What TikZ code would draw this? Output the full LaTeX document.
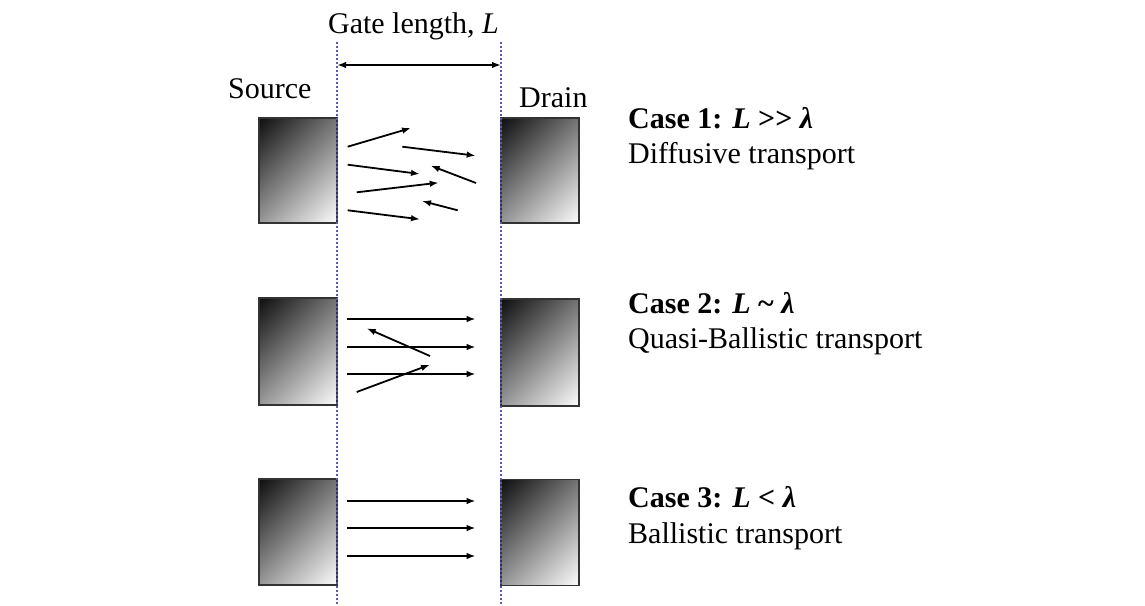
\documentclass[tikz,border=0pt]{standalone}
\usepackage{fontspec}
\setmainfont{Liberation Serif}
\usetikzlibrary{arrows.meta}
\definecolor{dotblue}{RGB}{90,90,190}
\pgfdeclareverticalshading{boxshade}{100bp}{color(0bp)=(white); color(14bp)=(white); color(86bp)=(black!95); color(100bp)=(black)}
\begin{document}
\begin{tikzpicture}[x=1pt,y=-1pt,
  box/.style={draw=black!80,line width=1.4pt,shading=boxshade,shading angle=45,
    minimum width=78pt,minimum height=106pt,inner sep=0pt,outer sep=0pt},
  arr/.style={line width=1.8pt,-{Latex[length=9pt,width=6.5pt]}},
  dbl/.style={line width=1.8pt,{Latex[length=9pt,width=6.5pt]}-{Latex[length=9pt,width=6.5pt]}},
  guide/.style={draw=dotblue,line width=1.1pt,dash pattern=on 2pt off 2pt},
  txt/.style={font=\fontsize{30}{34}\selectfont,inner sep=0pt}]
\useasboundingbox (0,0) rectangle (1145,605);

% boxes
\node[box,shade,minimum height=105pt] (s1) at (298,170.5) {};
\node[box,shade,minimum height=105pt] (d1) at (540,170.5) {};
\node[box,shade,minimum height=107pt] (s2) at (298,351.5) {};
\node[box,shade,minimum height=107pt] (d2) at (540,352.5) {};
\node[box,shade,minimum height=106pt] (s3) at (298,532) {};
\node[box,shade,minimum height=106pt] (d3) at (540,532.5) {};

% guide lines
\coordinate (gLt) at (337,42);
\coordinate (gLb) at (337,605);
\coordinate (gRt) at (501,42);
\coordinate (gRb) at (501,605);
\draw[guide] (gLt) -- (gLb);
\draw[guide] (gRt) -- (gRb);

% gate length
\coordinate (gA) at (337,65);
\coordinate (gB) at (501,65);
\draw[dbl] (gA) -- (gB);
\node[txt,anchor=base] (gate) at (413.5,33) {Gate length, \textit{L}};
\node[txt,anchor=base west] (src) at (228,98) {Source};
\node[txt,anchor=base west] (drn) at (519,107) {Drain};

% case 1 arrows (diffusive)
\draw[arr] (347.7,146.7) -- (411,128);
\draw[arr] (402.3,146.7) -- (475.7,155.7);
\draw[arr] (347.7,164.7) -- (420,174);
\draw[arr] (476,183) -- (430.7,165.7);
\draw[arr] (356.7,192.3) -- (438.7,182.7);
\draw[arr] (457.7,210.3) -- (422,201);
\draw[arr] (347.7,210.3) -- (420,219.3);

% case 2 arrows
\draw[arr] (347,319) -- (475.7,319);
\draw[arr] (347,347) -- (475.7,347);
\draw[arr] (347,374) -- (475.7,374);
\draw[arr] (430,356) -- (366.7,328.3);
\draw[arr] (356.7,392) -- (430,364.7);

% case 3 arrows
\draw[arr] (347,501) -- (475.7,501);
\draw[arr] (347,528) -- (475.7,528);
\draw[arr] (347,556) -- (475.7,556);

% case labels
\node[txt,anchor=base west] (c1a) at (628,128) {\textbf{Case 1: \textit{L} >\kern0pt> \textit{λ}}};
\node[txt,anchor=base west] (c1b) at (628,163.5) {Diffusive transport};
\node[txt,anchor=base west] (c2a) at (628,313) {\textbf{Case 2: \textit{L} \textasciitilde{} \textit{λ}}};
\node[txt,anchor=base west] (c2b) at (628,348) {Quasi-Ballistic transport};
\node[txt,anchor=base west] (c3a) at (628,507) {\textbf{Case 3: \textit{L} < \textit{λ}}};
\node[txt,anchor=base west] (c3b) at (628,543) {Ballistic transport};
\end{tikzpicture}
\end{document}
